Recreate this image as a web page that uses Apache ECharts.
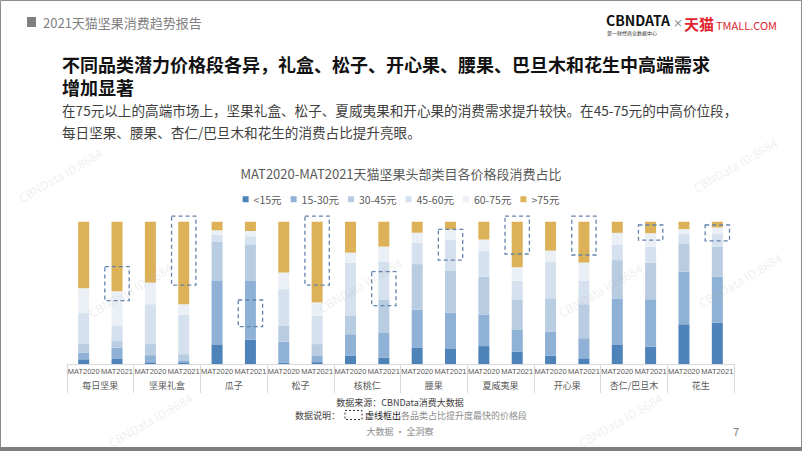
<!DOCTYPE html>
<html><head><meta charset="utf-8">
<script src="https://cdn.jsdelivr.net/npm/echarts@6/dist/echarts.min.js"></script>
<style>html,body{margin:0;padding:0;background:#fff;}#c{width:802px;height:451px;}</style>
</head><body><div id="c"></div>
<script>
// ---- data ----
const groups = ['每日坚果','坚果礼盒','瓜子','松子','核桃仁','腰果','夏威夷果','开心果','杏仁/巴旦木','花生'];
const periods = ['MAT2020','MAT2021'];
const seriesNames = ['<15元','15-30元','30-45元','45-60元','60-75元','>75元'];
const lt15   = [3.3, 3.5, 1.2, 1.2, 13.8, 17.0, 1.0, 1.3, 5.7, 4.5, 11.3, 11.0, 12.6, 8.7, 5.9, 4.0, 13.8, 12.2, 27.9, 29.0];
const p15_30 = [4.8, 8.0, 5.0, 1.4, 45.0, 41.8, 14.7, 4.7, 15.2, 17.3, 26.9, 25.0, 22.2, 15.2, 16.9, 14.1, 32.3, 33.3, 37.0, 32.3];
const p30_45 = [6.0, 4.6, 7.8, 4.3, 27.0, 25.3, 11.1, 8.0, 12.9, 23.6, 32.0, 29.8, 26.5, 21.1, 23.4, 23.9, 26.9, 25.8, 19.9, 21.1];
const p45_60 = [21.7, 10.7, 28.0, 27.8, 5.0, 5.7, 25.8, 20.0, 37.5, 26.7, 15.1, 21.3, 18.0, 13.6, 25.8, 16.4, 11.0, 11.2, 7.0, 9.4];
const p60_75 = [17.5, 24.3, 15.2, 7.3, 3.2, 3.7, 11.7, 9.3, 7.0, 10.4, 7.0, 7.6, 8.2, 9.4, 7.7, 12.9, 8.2, 9.4, 3.0, 4.2];
const gt75   = [46.7, 48.9, 42.8, 58.0, 6.0, 6.5, 35.7, 56.7, 21.7, 17.5, 7.7, 5.3, 12.5, 32.0, 20.3, 28.7, 7.8, 8.1, 5.2, 4.0];
// dashed highlight boxes: bar index, low %, high %
const boxIndex = [1, 3, 5, 7, 9, 11, 13, 15, 17, 19];
const boxLow   = [44.5, 55.5, 26.2, 55.5, 41.0, 73.0, 77.3, 76.6, 87.1, 86.6];
const boxHigh  = [68.4, 104, 45.0, 104, 64.9, 94.6, 104, 104, 97.7, 97.7];

// ---- build ----
const cats = [];
groups.forEach(() => periods.forEach(p => cats.push(p)));
const values = [lt15, p15_30, p30_45, p45_60, p60_75, gt75];
const colors = ['#4e83ba', '#8fb1d5', '#b8cce2', '#d5e1ee', '#eaf0f6', '#dcb157'];
const FONT = '"Noto Sans CJK SC","Noto Sans",sans-serif';
const LATIN = '"Liberation Sans","Noto Sans CJK SC",sans-serif';

const bars = seriesNames.map((n, i) => ({
  name: n, type: 'bar', stack: 'all', barWidth: 11, xAxisIndex: 0,
  itemStyle: { color: colors[i] }, data: values[i], silent: true
}));

const boxSeries = {
  type: 'custom', xAxisIndex: 0, silent: true, z: 5,
  data: boxIndex.map((b, i) => [b, boxLow[i], boxHigh[i]]),
  renderItem: function (params, api) {
    const lo = api.coord([api.value(0), api.value(1)]);
    const hi = api.coord([api.value(0), api.value(2)]);
    const w = api.size([1, 0])[0] * 0.73;
    return { type: 'rect',
      shape: { x: lo[0] - w / 2, y: hi[1], width: w, height: lo[1] - hi[1] },
      style: { fill: 'none', stroke: '#6383ab', lineWidth: 1.3, lineDash: [4, 3] } };
  }
};

// watermark texts (decorative)
const wm = [];
[[130,290],[360,285],[600,290],[740,280],[60,175],[735,165],[150,420],[620,420]].forEach(p => {
  wm.push({ type: 'text', x: p[0], y: p[1], rotation: Math.PI / 6, silent: true, z: 100,
    style: { text: 'CBNData ID:8684', fill: 'rgba(180,180,180,0.22)', font: '12px ' + FONT, align: 'center', verticalAlign: 'middle' } });
});

const chart = echarts.init(document.getElementById('c'), null, { renderer: 'svg' });
chart.setOption({
  animation: false,
  backgroundColor: '#ffffff',
  title: { text: 'MAT2020-MAT2021天猫坚果头部类目各价格段消费占比', left: 'center', top: 162,
    textStyle: { fontSize: 13, fontWeight: 'normal', color: '#595959', fontFamily: FONT } },
  legend: { data: seriesNames, top: 189, left: 'center', icon: 'rect', itemWidth: 6, itemHeight: 6, itemGap: 9,
    textStyle: { fontSize: 10.5, color: '#595959', fontFamily: FONT } },
  grid: { left: 67, right: 68, top: 207.5, bottom: 87 },
  xAxis: [
    { type: 'category', data: cats, position: 'bottom',
      axisLine: { lineStyle: { color: '#d9d9d9' } }, axisTick: { show: false },
      axisLabel: { interval: 0, fontSize: 7.5, color: '#595959', margin: 4, fontFamily: LATIN } },
    { type: 'category', data: groups, position: 'bottom',
      axisLine: { show: false }, axisTick: { show: true, length: 29, lineStyle: { color: '#d9d9d9' } },
      axisLabel: { interval: 0, fontSize: 9, color: '#595959', margin: 17, fontFamily: FONT } }
  ],
  yAxis: { type: 'value', min: 0, max: 110, show: false },
  series: bars.concat([boxSeries]),
  graphic: [
    { type: 'rect', shape: { x: 0.5, y: 0.5, width: 801, height: 447 }, style: { fill: 'none', stroke: '#8c8c8c', lineWidth: 1 }, silent: true },
    { type: 'rect', shape: { x: 0, y: 447, width: 802, height: 4 }, style: { fill: '#7f7f7f' }, silent: true },
    { type: 'rect', shape: { x: 27, y: 17, width: 9, height: 10 }, style: { fill: '#7f7f7f' } },
    { type: 'text', x: 43, y: 22, style: { text: '2021天猫坚果消费趋势报告', font: '13px ' + FONT, fill: '#7f7f7f', verticalAlign: 'middle' } },
    { type: 'text', x: 606, y: 20, style: { text: 'CBNDATA', font: 'bold 14px ' + FONT, fill: '#111', verticalAlign: 'middle' } },
    { type: 'text', x: 607, y: 32, style: { text: '第一财经商业数据中心', font: '5px ' + FONT, fill: '#333', verticalAlign: 'middle' } },
    { type: 'text', x: 673, y: 22, style: { text: '×', font: '10px ' + FONT, fill: '#666', verticalAlign: 'middle' } },
    { type: 'text', x: 684, y: 23, style: { text: '天猫', font: 'bold 15px ' + FONT, fill: '#e0242e', verticalAlign: 'middle' } },
    { type: 'text', x: 716, y: 25, style: { text: 'TMALL.COM', font: '11px ' + FONT, fill: '#e0242e', verticalAlign: 'middle' } },
    { type: 'text', x: 62, y: 52.5, style: { text: '不同品类潜力价格段各异，礼盒、松子、开心果、腰果、巴旦木和花生中高端需求\n增加显著', font: 'bold 18px ' + FONT, lineHeight: 23, fill: '#111', verticalAlign: 'top' } },
    { type: 'text', x: 62, y: 98.5, style: { text: '在75元以上的高端市场上，坚果礼盒、松子、夏威夷果和开心果的消费需求提升较快。在45-75元的中高价位段，\n每日坚果、腰果、杏仁/巴旦木和花生的消费占比提升亮眼。', font: '13.6px ' + FONT, lineHeight: 22, fill: '#404040', verticalAlign: 'top' } },
    { type: 'text', x: 400, y: 402, style: { text: '数据来源：CBNData消费大数据', font: '9px ' + FONT, fill: '#404040', align: 'center', verticalAlign: 'middle' } },
    { type: 'text', x: 340, y: 415, style: { text: '数据说明：', font: '9px ' + FONT, fill: '#404040', align: 'right', verticalAlign: 'middle' } },
    { type: 'rect', shape: { x: 345, y: 410.5, width: 17, height: 9 }, style: { fill: 'none', stroke: '#333', lineWidth: 1, lineDash: [2, 2] } },
    { type: 'text', x: 365, y: 415, style: { text: '虚线框出', font: '9px ' + FONT, fill: '#222', verticalAlign: 'middle' } },
    { type: 'text', x: 401, y: 415, style: { text: '各品类占比提升度最快的价格段', font: '9px ' + FONT, fill: '#8c8c8c', verticalAlign: 'middle' } },
    { type: 'text', x: 400, y: 431, style: { text: '大数据 · 全洞察', font: '9px ' + FONT, fill: '#8c8c8c', align: 'center', verticalAlign: 'middle' } },
    { type: 'text', x: 736, y: 431, style: { text: '7', font: '11px ' + FONT, fill: '#7f7f7f', align: 'center', verticalAlign: 'middle' } }
  ].concat(wm)
});
</script></body></html>
